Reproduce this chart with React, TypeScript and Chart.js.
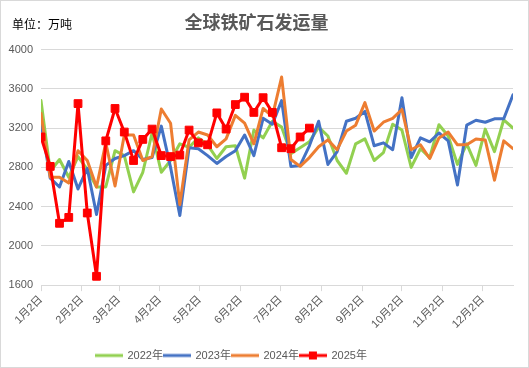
import React, { useEffect, useRef } from 'react';
import { Chart, registerables } from 'chart.js';

Chart.register(...registerables);

// Week dates expressed as day-of-year (Jan 2 + 7 days per week)
const firstWeekDay = 2;
const weekStep = 7;

const monthTickDays = [2, 33, 61, 92, 122, 153, 183, 214, 245, 275, 306, 336];
const monthTickLabels = ['1月2日', '2月2日', '3月2日', '4月2日', '5月2日', '6月2日', '7月2日', '8月2日', '9月2日', '10月2日', '11月2日', '12月2日'];

const seriesNames = ['2022年', '2023年', '2024年', '2025年'];

const values2022 = [
  3480, 2760, 2880, 2700, 2910, 2780, 2600, 2600, 2970, 2920,
  2550, 2750, 3150, 2750, 2870, 3040, 3005, 3100, 3030, 2890,
  3010, 3020, 2690, 3180, 3100, 3270, 3210, 2940, 3000, 3060,
  3210, 3120, 2870, 2740, 3040, 3090, 2870, 2950, 3240, 3180,
  2800, 2990, 2900, 3234, 3120, 2830, 3040, 2820, 3190, 2960,
  3285, 3200,
];

const values2023 = [
  3260, 2690, 2600, 2860, 2580, 2790, 2320, 2820, 2890, 2920,
  2970, 2880, 2900, 3220, 2800, 2310, 3000, 2990, 2920, 2840,
  2910, 2970, 3130, 2920, 3300, 3240, 3480, 2810, 2820, 3020,
  3270, 2830, 2960, 3270, 3300, 3370, 3020, 3050, 2980, 3510,
  2900, 3100, 3060, 3150, 3070, 2620, 3230, 3280, 3260, 3295,
  3295, 3540,
];

const values2024 = [
  3350, 2700, 2700, 2640, 2970, 2870, 2600, 3050, 2610, 3130,
  3130, 2870, 2910, 3395, 3250, 2420, 3080, 3160, 3130, 3010,
  3090, 3330, 3250, 3040, 3400, 3320, 3720, 2880, 2810, 2900,
  3010, 3080, 2980, 3170, 3230, 3460, 3170, 3260, 3300, 3390,
  2980, 3030, 2890, 3100, 3160, 3030, 3030, 3090, 3080, 2670,
  3070, 2990,
];

const values2025 = [
  3110, 2810, 2230, 2290, 3450, 2335, 1690, 3070, 3400, 3160,
  2870, 3085, 3190, 2920, 2910, 2925, 3180, 3050, 3030, 3355,
  3190, 3440, 3515, 3360, 3510, 3360, 3000, 2990, 3110, 3200,
];

const yTicks = [1600, 2000, 2400, 2800, 3200, 3600, 4000];

const seriesColors = ['#92D050', '#4472C4', '#ED7D31', '#FF0000'];

const FONT = "'Liberation Sans', 'Noto Sans CJK SC', sans-serif";
const CJK = "'Noto Sans CJK SC', sans-serif";

const toPoints = (vals: number[]) => vals.map((v, i) => ({ x: firstWeekDay + weekStep * i, y: v }));

function makeSwatch(color: string, marker: boolean) {
  const c = document.createElement('canvas');
  c.width = 28;
  c.height = 10;
  const ctx = c.getContext('2d')!;
  ctx.strokeStyle = color;
  ctx.lineWidth = 3;
  ctx.beginPath();
  ctx.moveTo(0, 5);
  ctx.lineTo(28, 5);
  ctx.stroke();
  if (marker) {
    ctx.fillStyle = color;
    ctx.fillRect(10, 1, 8, 8);
  }
  return c;
}

const legendPlace = {
  id: 'legendPlace',
  beforeDraw(chart: any) {
    const lg = chart.legend;
    if (!lg) return;
    lg.left = 95;
    lg.top += 3;
  },
};

export default function App() {
  const ref = useRef<HTMLCanvasElement | null>(null);

  useEffect(() => {
    if (!ref.current) return;
    const swatches = seriesColors.map((c, i) => makeSwatch(c, i === 3));
    const allValues = [values2022, values2023, values2024, values2025];
    const datasets = allValues.map((vals, i) => ({
      label: seriesNames[i],
      data: toPoints(vals),
      borderColor: seriesColors[i],
      backgroundColor: seriesColors[i],
      borderWidth: 3,
      tension: 0,
      borderJoinStyle: 'round' as const,
      borderCapStyle: 'round' as const,
      pointRadius: i === 3 ? 5.5 : 0,
      pointStyle: 'rect' as const,
      pointBorderWidth: 1,
      pointBorderColor: seriesColors[i],
      pointBackgroundColor: seriesColors[i],
      order: 3 - i,
    }));

    const chart = new Chart(ref.current, {
      type: 'line',
      data: { datasets },
      plugins: [legendPlace],
      options: {
        animation: false,
        responsive: false,
        devicePixelRatio: 1,
        layout: { padding: { left: 0, right: 16, top: 0, bottom: 0 } },
        plugins: {
          title: {
            display: true,
            text: '全球铁矿石发运量',
            color: '#595959',
            font: { family: CJK, size: 18, weight: 'bold' },
            padding: { top: 11, bottom: 17 },
          },
          legend: {
            position: 'bottom',
            align: 'start',
            labels: {
              usePointStyle: true,
              pointStyleWidth: 26,
              boxHeight: 10,
              padding: 1,
              color: '#595959',
              font: { family: FONT, size: 11 },
              generateLabels: () =>
                seriesNames.map((name, i) => ({
                  text: name,
                  fillStyle: seriesColors[i],
                  strokeStyle: seriesColors[i],
                  lineWidth: 0,
                  pointStyle: swatches[i],
                  hidden: false,
                  datasetIndex: i,
                  fontColor: '#595959',
                })),
            },
          },
          tooltip: { enabled: false },
        },
        scales: {
          x: {
            type: 'linear',
            min: firstWeekDay,
            max: firstWeekDay + weekStep * 51,
            afterBuildTicks: (s: any) => {
              s.ticks = monthTickDays.map((v) => ({ value: v }));
            },
            afterFit: (s: any) => {
              s.height += 13;
            },
            ticks: {
              autoSkip: false,
              minRotation: 45,
              maxRotation: 45,
              color: '#595959',
              font: { family: FONT, size: 11 },
              padding: 2,
              callback: (_v: any, idx: number) => monthTickLabels[idx] ?? '',
            },
            grid: { drawOnChartArea: false, tickLength: 6, color: '#d9d9d9' },
            border: { color: '#d9d9d9' },
          },
          y: {
            min: 1600,
            max: 4000,
            afterBuildTicks: (s: any) => {
              s.ticks = yTicks.map((v) => ({ value: v }));
            },
            ticks: {
              color: '#595959',
              font: { family: FONT, size: 11 },
              padding: 8,
              callback: (v: any) => String(v),
            },
            grid: { color: '#d9d9d9', drawTicks: false },
            border: { display: false },
            afterFit: (s: any) => {
              s.width = 41;
            },
          },
        },
      },
    });
    return () => chart.destroy();
  }, []);

  return (
    <div style={{ position: 'fixed', left: 0, top: 0, width: 529, height: 368, background: '#fff' }}>
      <canvas ref={ref} width={529} height={368} style={{ display: 'block', width: 529, height: 368 }} />
      <div
        style={{
          position: 'absolute',
          left: 12,
          top: 15,
          fontFamily: CJK,
          fontSize: 12,
          lineHeight: '18px',
          color: '#000',
        }}
      >
        单位：万吨
      </div>
      <div
        style={{
          position: 'absolute',
          left: 0,
          top: 0,
          width: 529,
          height: 368,
          boxSizing: 'border-box',
          border: '1px solid #d9d9d9',
          pointerEvents: 'none',
        }}
      />
    </div>
  );
}
